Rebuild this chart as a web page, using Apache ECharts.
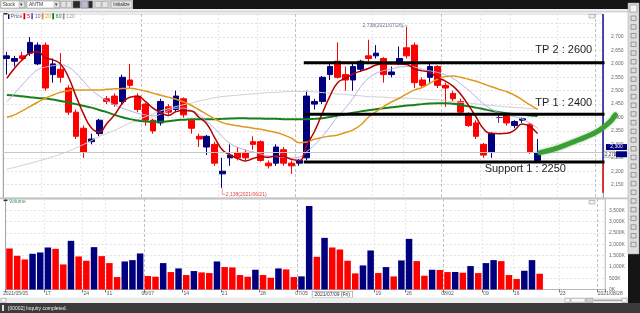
<!DOCTYPE html>
<html>
<head>
<meta charset="utf-8">
<title>ANTM</title>
<script src="https://cdn.jsdelivr.net/npm/echarts@6.0.0/dist/echarts.min.js"></script>
<style>
html,body{margin:0;padding:0;background:#ffffff;overflow:hidden;}
#chart{width:640px;height:313px;}
</style>
</head>
<body>
<div id="chart"></div>
<script>
// ---------------- DATA ----------------
const dates = [
'2021/05/05','2021/05/06','2021/05/07','2021/05/10','2021/05/11','2021/05/17','2021/05/18','2021/05/19','2021/05/20','2021/05/21',
'2021/05/24','2021/05/25','2021/05/27','2021/05/31','2021/06/01','2021/06/02','2021/06/03','2021/06/04','2021/06/07','2021/06/08',
'2021/06/09','2021/06/10','2021/06/11','2021/06/14','2021/06/15','2021/06/16','2021/06/17','2021/06/18','2021/06/21','2021/06/22',
'2021/06/23','2021/06/24','2021/06/25','2021/06/28','2021/06/29','2021/06/30','2021/07/01','2021/07/02','2021/07/05','2021/07/06',
'2021/07/07','2021/07/08','2021/07/09','2021/07/12','2021/07/13','2021/07/14','2021/07/15','2021/07/16','2021/07/19','2021/07/21',
'2021/07/22','2021/07/23','2021/07/26','2021/07/27','2021/07/28','2021/07/29','2021/07/30','2021/08/02','2021/08/03','2021/08/04',
'2021/08/05','2021/08/06','2021/08/09','2021/08/10','2021/08/12','2021/08/13','2021/08/16','2021/08/18','2021/08/19','2021/08/20',
'2021/08/21','2021/08/22','2021/08/23','2021/08/24','2021/08/25','2021/08/26','2021/08/27','2021/08/28'
];
const tickLabels = {0:'2021/05/05',5:'17',10:'24',13:'31',18:'06/07',23:'14',28:'21',33:'28',38:'07/05',
  42:'2021/07/09 (Fri)',48:'19',52:'26',57:'08/02',62:'09',66:'16',72:'23',77:'2021/08/28'};
const monthTickIdx = [18,38,57,77];
const crossIdx = 42;

const opens  = [2620,2610,2630,2640,2600,2670,2560,2580,2510,2420,2360,2310,2340,2470,2480,2460,2540,2480,2450,2390,
                2380,2440,2430,2470,2390,2330,2290,2300,2190,2250,2270,2270,2310,2310,2230,2230,2280,2230,2230,2250,
                2450,2460,2560,2610,2560,2540,2580,2630,2630,2620,2560,2600,2660,2670,2540,2550,2590,2520,2490,2460,
                2410,2380,2300,2270,2400,2410,2370,2390,2375,2240];
const closes = [2630,2620,2620,2680,2670,2510,2600,2550,2420,2330,2270,2320,2390,2460,2450,2550,2520,2430,2390,2350,
                2460,2420,2480,2410,2360,2320,2330,2230,2200,2260,2250,2250,2300,2240,2220,2290,2230,2220,2240,2480,
                2460,2550,2590,2550,2540,2590,2610,2620,2640,2560,2570,2620,2630,2530,2520,2590,2520,2510,2470,2420,
                2370,2330,2260,2340,2400,2380,2385,2395,2270,2270];
const lows   = [2560,2590,2615,2630,2595,2500,2530,2530,2410,2320,2250,2300,2330,2450,2440,2450,2510,2420,2370,2340,
                2370,2410,2420,2400,2340,2290,2260,2220,2138,2220,2240,2240,2280,2235,2210,2220,2220,2190,2220,2240,
                2430,2450,2540,2545,2500,2500,2570,2610,2620,2530,2550,2595,2620,2510,2510,2530,2510,2440,2460,2410,
                2365,2320,2250,2250,2380,2370,2360,2380,2265,2240];
const highs  = [2645,2630,2645,2700,2680,2680,2620,2640,2520,2430,2370,2340,2395,2480,2490,2560,2600,2490,2455,2395,
                2470,2450,2500,2475,2395,2340,2335,2310,2250,2300,2290,2280,2330,2315,2240,2300,2290,2240,2245,2500,
                2470,2555,2600,2680,2590,2600,2615,2690,2670,2625,2590,2665,2738,2680,2550,2600,2595,2530,2500,2470,
                2420,2390,2305,2345,2420,2415,2390,2400,2380,2320];
const volumes = [1813,1490,1329,1578,1637,1857,1798,1108,2151,1461,1270,1872,1475,1167,550,1240,1299,1593,595,565,
                 1167,771,932,639,815,756,727,1240,991,976,639,565,873,639,521,932,888,550,580,3692,
                 1446,2283,1857,1769,1270,712,1064,1725,727,991,580,1285,2239,1255,609,873,865,771,775,741,
                 1035,727,1167,1299,1255,639,462,829,1299,697];
const ma5   = [2546,2584,2615,2640,2645,2623,2615,2599,2551,2479,2412,2361,2346,2378,2410,2451,2476,2479,2460,2435,
               2418,2408,2422,2426,2424,2400,2376,2326,2280,2261,2248,2238,2247,2254,2252,2257,2255,2244,2240,2298,
               2349,2415,2480,2530,2546,2563,2573,2583,2596,2600,2600,2600,2598,2581,2574,2568,2549,2536,2517,2487,
               2446,2402,2357,2341,2340,2341,2353,2376,2366,2340];
const ma10  = [2459,2490,2522,2553,2578,2588,2593,2596,2588,2565,2534,2503,2481,2463,2447,2435,2425,2416,2410,2406,
               2413,2426,2435,2435,2426,2410,2385,2360,2329,2304,2289,2279,2272,2264,2257,2254,2252,2249,2252,2273,
               2298,2329,2366,2403,2435,2472,2515,2546,2565,2575,2581,2588,2590,2588,2580,2574,2568,2559,2546,2525,
               2503,2476,2451,2431,2418,2410,2403,2394,2379,2360];
const ma20  = [2401,2410,2425,2441,2457,2472,2484,2494,2500,2503,2503,2503,2503,2505,2507,2508,2509,2505,2499,2491,
               2483,2476,2468,2458,2445,2428,2412,2395,2381,2374,2369,2365,2360,2356,2350,2344,2335,2323,2306,2309,
               2319,2326,2331,2335,2344,2354,2372,2401,2422,2441,2458,2472,2488,2503,2512,2528,2543,2553,2555,2550,
               2543,2535,2525,2515,2505,2496,2483,2466,2447,2431];
const ma60  = [2484,2482,2479,2476,2473,2471,2467,2462,2456,2450,2443,2437,2428,2420,2410,2401,2394,2389,2385,2384,
               2384,2386,2390,2392,2394,2394,2394,2394,2395,2396,2397,2397,2396,2396,2395,2395,2394,2394,2394,2394,
               2395,2397,2402,2407,2412,2418,2423,2427,2431,2435,2438,2441,2445,2447,2450,2452,2453,2453,2451,2447,
               2442,2437,2431,2425,2420,2416,2413,2411,2408,2406];
const ma120 = [2207,2214,2222,2229,2237,2245,2254,2264,2274,2287,2300,2314,2329,2341,2352,2366,2379,2391,2403,2413,
               2425,2433,2441,2448,2454,2462,2468,2474,2478,2481,2483,2486,2488,2491,2493,2494,2496,2497,2497,2497,
               2496,2493,2491,2488,2486,2483,2481,2478,2477,2476,2474,2473,2472,2471,2469,2468,2466,2463,2459,2457,
               2454,2451,2447,2445,2442,2440,2437,2436,2433,2432];
const priceTicks  = [2150,2200,2250,2300,2350,2400,2450,2500,2550,2600,2650,2700];
const volumeTicks = [0,500,1000,1500,2000,2500,3000,3500];
const levelTexts  = ['TP 2 : 2600','TP 1 : 2400','Support 1 : 2250'];
const levelValues = [2604,2412,2234];
const levelFromIdx = 38.6;
const projectionIdx    = [69.3,71.1,73.2,75.4,77.1,78.45,79.1];
const projectionPrices = [2269,2282,2304,2329,2354,2385,2410];
const highMark = {idx:52, value:2738, text:'2,738(2021/07/26)'};
const lowMark  = {idx:28, value:2138, text:'2,138(2021/06/21)'};
const rangeSplit = 2236, rangeLow = 2120;
const sideBoxes = [{value:2290, text:'2,300'}, {value:2263, text:'2,270'}];

// ---------------- STYLE ----------------
const BLUE = '#00007f', RED = '#ff0000';
const FONT = 'Liberation Sans';
const N = dates.length;
const minorTickIdx = Object.keys(tickLabels).map(Number);

const chart = echarts.init(document.getElementById('chart'), null, {renderer:'canvas'});

function catAxis(grid, opts) {
  return Object.assign({
    type:'category', gridIndex:grid, data:dates, boundaryGap:true,
    axisLine:{show:false}, axisTick:{show:false}, axisLabel:{show:false},
    splitLine:{show:false}
  }, opts);
}

const option = {
  animation:false,
  backgroundColor:'#ffffff',
  grid:[
    {left:3, right:37, top:14, height:184, show:true, borderColor:'#d4d4d4', borderWidth:1},
    {left:3, right:35, top:199, height:90.5, show:true, borderColor:'#d4d4d4', borderWidth:1}
  ],
  xAxis:[
    catAxis(0, {splitLine:{show:true, interval:(i)=>minorTickIdx.includes(i) && !monthTickIdx.includes(i) && i!==crossIdx,
                           lineStyle:{color:'#e6e6e6', type:[2,2], width:1}}}),
    catAxis(1, {
      position:'bottom',
      axisLine:{show:true, lineStyle:{color:'#b8b8b8'}},
      axisTick:{show:true, interval:(i)=>minorTickIdx.includes(i) && i!==crossIdx, length:3, lineStyle:{color:'#777'}},
      axisLabel:{show:true, interval:0, fontSize:5, fontFamily:FONT, color:'#555', margin:2, align:'center',
        formatter:(v,i)=>{
          const t = tickLabels[i];
          if (!t) return '';
          if (i===0) return '{first|'+t+'}';
          if (i===N-1) return '{last|'+t+'}';
          if (i===crossIdx) return '{cross|'+t+'}';
          return t;
        },
        rich:{
          first:{padding:[0,0,0,12], fontSize:5, fontFamily:FONT, color:'#555'},
          last:{padding:[0,0,0,18], fontSize:5, fontFamily:FONT, color:'#555'},
          cross:{backgroundColor:'#ffffff', borderColor:'#8a8a8a', borderWidth:0.6, padding:[1,2,0,2], fontSize:5, fontFamily:FONT, color:'#333'}
        }
      },
      splitLine:{show:true, interval:(i)=>minorTickIdx.includes(i) && !monthTickIdx.includes(i) && i!==crossIdx,
                 lineStyle:{color:'#e6e6e6', type:[2,2], width:1}}
    }),
    catAxis(0, {splitLine:{show:true, interval:(i)=>monthTickIdx.includes(i), lineStyle:{color:'#c2c2c2', type:[3,2], width:1}}}),
    catAxis(1, {splitLine:{show:true, interval:(i)=>monthTickIdx.includes(i), lineStyle:{color:'#c2c2c2', type:[3,2], width:1}}}),
    catAxis(0, {splitLine:{show:true, interval:(i)=>i===crossIdx, lineStyle:{color:'#a6a6a6', type:'solid', width:1}}}),
    catAxis(1, {splitLine:{show:true, interval:(i)=>i===crossIdx, lineStyle:{color:'#a6a6a6', type:'solid', width:1}}}),
    {type:'value', gridIndex:0, min:-0.5, max:N-0.5, show:false}
  ],
  yAxis:[
    {type:'value', gridIndex:0, position:'right', min:2100, max:2786, interval:50, scale:true,
     axisLine:{show:false}, axisTick:{show:false},
     axisLabel:{fontSize:5, fontFamily:FONT, color:'#666', margin:8, showMaxLabel:true,
       formatter:(v)=>priceTicks.includes(v) ? v.toLocaleString('en-US') : ''},
     splitLine:{show:true, lineStyle:{color:'#e2e2e2', type:[2,2], width:1}}},
    {type:'value', gridIndex:1, position:'right', min:0, max:4000, interval:500,
     axisLine:{show:true, lineStyle:{color:'#c8c8c8'}}, axisTick:{show:false},
     axisLabel:{fontSize:5, fontFamily:FONT, color:'#666', margin:4,
       formatter:(v)=>volumeTicks.includes(v) ? v.toLocaleString('en-US')+'K' : ''},
     splitLine:{show:true, lineStyle:{color:'#e2e2e2', type:[2,2], width:1}}}
  ],
  series:[
    {type:'candlestick', name:'Price', xAxisIndex:0, yAxisIndex:0, barWidth:6.3,
     data: opens.map((o,i)=>[o, closes[i], lows[i], highs[i]]),
     itemStyle:{color:BLUE, color0:RED, borderColor:BLUE, borderColor0:RED, borderColorDoji:'#3a3a9a', borderWidth:1},
     markLine:{silent:true, symbol:'none', label:{show:false},
       lineStyle:{color:'#c6c6c6', type:'solid', width:1},
       data:[{yAxis: closes[closes.length-1]}]}
    },
    {type:'line', name:'120', xAxisIndex:0, yAxisIndex:0, data:ma120, showSymbol:false, smooth:true,
     lineStyle:{color:'#cfcfcf', width:1}},
    {type:'line', name:'60', xAxisIndex:0, yAxisIndex:0, data:ma60, showSymbol:false, smooth:true,
     lineStyle:{color:'#17801a', width:2}},
    {type:'line', name:'20', xAxisIndex:0, yAxisIndex:0, data:ma20, showSymbol:false, smooth:true,
     lineStyle:{color:'#e0981c', width:1.5}},
    {type:'line', name:'10', xAxisIndex:0, yAxisIndex:0, data:ma10, showSymbol:false, smooth:true,
     lineStyle:{color:'#b2b2e6', width:1}},
    {type:'line', name:'5', xAxisIndex:0, yAxisIndex:0, data:ma5, showSymbol:false, smooth:true,
     lineStyle:{color:'#b30000', width:1.5}},
    {type:'bar', name:'Volume', xAxisIndex:1, yAxisIndex:1, barWidth:6.5,
     data: volumes.map((v,i)=>({value:v, itemStyle:{color: (i>0 && v>volumes[i-1]) ? BLUE : RED}}))},
    // price-range line on the right edge
    {type:'line', xAxisIndex:6, yAxisIndex:0, clip:false, showSymbol:false, silent:true,
     data:[[N-0.5, 2786],[N-0.5, rangeSplit]], lineStyle:{color:'#1a1aa0', width:1.5}, z:5},
    {type:'line', xAxisIndex:6, yAxisIndex:0, clip:false, showSymbol:false, silent:true,
     data:[[N-0.5, rangeSplit],[N-0.5, rangeLow]], lineStyle:{color:'#e00000', width:1.5}, z:5},
    // hand-drawn levels
    ...levelValues.map(v=>({type:'line', xAxisIndex:6, yAxisIndex:0, clip:false, showSymbol:false, silent:true,
      data:[[levelFromIdx, v],[N-0.3, v]], lineStyle:{color:'#000000', width:3}, z:10}))
  ]
};
chart.setOption(option);

// ---------------- OVERLAYS (placed through the chart's own scales) ----------------
const P = (x, v) => chart.convertToPixel({xAxisIndex:6, yAxisIndex:0}, [x, v]);
const g = [];
function rect(x,y,w,h,fill,stroke,lw,z){ g.push({type:'rect', z:z||50, silent:true, shape:{x,y,width:w,height:h},
  style:{fill:fill||'none', stroke:stroke||null, lineWidth:lw||0}}); }
function txt(x,y,t,size,fill,align,valign,font,z,weight){ g.push({type:'text', z:z||60, silent:true,
  style:{x,y,text:t,fontSize:size,fill,align:align||'left',verticalAlign:valign||'middle',fontFamily:font||FONT,fontWeight:weight||'normal'}}); }
function line(x1,y1,x2,y2,stroke,lw,z){ g.push({type:'line', z:z||55, silent:true, shape:{x1,y1,x2,y2}, style:{stroke, lineWidth:lw||1}}); }

// top toolbar
rect(0,0,640,9,'#151515');
rect(0,0,133,9,'#cfcfcf');
rect(1,1,24,7,'#ffffff','#8a8a8a',0.5);  txt(2.5,4.6,'Stock',5,'#333');
rect(19,1.5,5.5,6,'#e4e4e4','#9a9a9a',0.5); txt(21.7,4.6,'▾',5,'#333','center');
rect(27,1,33,7,'#ffffff','#8a8a8a',0.5); txt(29,4.6,'ANTM',5,'#333');
rect(54,1.5,5.5,6,'#e4e4e4','#9a9a9a',0.5); txt(56.7,4.6,'▾',5,'#333','center');
rect(61,1.5,5,6,'#e4e4e4','#9a9a9a',0.5); rect(66.5,1.5,5,6,'#e4e4e4','#9a9a9a',0.5);
rect(73,1,7,7,'#2b2b2b','#777',0.5); rect(81,1,7,7,'#b9b9d9','#777',0.5); rect(88.5,1,4,7,'#2b2b2b','#777',0.5);
rect(95,1.5,6,6,'#e4e4e4','#9a9a9a',0.5); rect(102,1.5,6,6,'#e4e4e4','#9a9a9a',0.5);
rect(111,1,21,7,'#e6e6e6','#8a8a8a',0.5); txt(121.5,4.6,'Initialize',4.5,'#222','center');
rect(0,9,628,3,'#ededed');
rect(0,11.5,628,0.8,'#b5b5b5');
// right toolbar
rect(628,0,12,313,'#151515');
rect(628,3,11,251,'#dedede','#a0a0a0',0.5);
rect(630,5,7,7,'#f4f4f4','#777',0.5);
for (let k=0;k<27;k++){ const yy=16+k*8.7; rect(631,yy,5,4.5,'none','#6a6a6a',0.6); }
// panel separator
rect(0,197.6,628,1.6,'#c4c4c4');
// legends
g.push({type:'text', z:60, silent:true, style:{x:8, y:16.5, verticalAlign:'middle', fontFamily:FONT, fontSize:5,
  text:'{a|▌}{p|Price} {r|▌}{r|5} {b|▌}{b|10} {o|▌}{o|20} {gr|▌}{gr|60} {gy|▌}{gy|120}',
  rich:{a:{fill:'#000080',fontSize:4}, p:{fill:'#556',fontSize:5,fontFamily:FONT}, r:{fill:'#e00000',fontSize:5,fontFamily:FONT},
        b:{fill:'#6060c8',fontSize:5,fontFamily:FONT}, o:{fill:'#e0981c',fontSize:5,fontFamily:FONT},
        gr:{fill:'#17801a',fontSize:5,fontFamily:FONT}, gy:{fill:'#9a9a9a',fontSize:5,fontFamily:FONT}}}});
rect(3.5,13,4,1.5,'#333');
rect(3.5,199.6,4,1.5,'#333');
txt(9,202,'Volume',5,'#3a9a55');
rect(589,14.5,6,3.5,'#f2f2f2','#888',0.5);
rect(589,200.5,6,3.5,'#f2f2f2','#888',0.5);
// bottom scroll row and status bar
rect(0,297.5,628,5.5,'#ececec');
rect(1,298.3,5,4,'#f8f8f8','#888',0.5);
rect(565,298.3,5,4,'#f8f8f8','#888',0.5);
rect(571,298.3,14,4,'#f8f8f8','#888',0.5);
rect(586,298.3,7,4,'#cfcfcf','#888',0.5);
rect(594,299.6,28,1.5,'#a8a8a8');
rect(622,298.3,5,4,'#f8f8f8','#888',0.5);
rect(0,303,640,10,'#3b3b3b');
rect(2,305,2,6,'#dcdcdc');
txt(8,308.3,'[00002] Inquiry completed.',5,'#f0f0f0');

// projection arrow (hand-drawn green curve), through the price scale
g.push({type:'polyline', z:80, silent:true,
  shape:{points: projectionIdx.map((x,i)=>P(x, projectionPrices[i])), smooth:0.35},
  style:{stroke:'#3c9f35', lineWidth:5, lineCap:'round', lineJoin:'round', fill:null,
         shadowColor:'rgba(60,160,50,0.55)', shadowBlur:3}});

// level labels
const levelLabelLayout = [{idx:76.1, dy:-12.5, align:'right'},{idx:76.1, dy:-11, align:'right'},{idx:67.4, dy:7, align:'center'}];
levelValues.forEach((v,i)=>{
  const L = levelLabelLayout[i];
  const p = P(L.idx, v);
  txt(p[0], p[1]+L.dy, levelTexts[i], 11, '#1e1e1e', L.align, 'middle', FONT, 70);
});
// high / low annotations
{
  const h = P(highMark.idx, highMark.value);
  line(h[0]-3, h[1]-1, h[0], h[1]-1, '#8a8aa8', 0.6); line(h[0], h[1]-1, h[0], h[1]+1.5, '#8a8aa8', 0.6);
  txt(h[0]-3.5, h[1]-1, highMark.text, 5, '#6c6c90', 'right');
  const l = P(lowMark.idx, lowMark.value);
  line(l[0], l[1], l[0], l[1]+6.5, '#e05050', 0.6); line(l[0], l[1]+6.5, l[0]+3, l[1]+6.5, '#e05050', 0.6);
  txt(l[0]+3.5, l[1]+6.8, lowMark.text, 5, '#e04848', 'left');
}
// side boxes on the price scale
{
  const b1 = P(N-0.5, sideBoxes[0].value);
  rect(b1[0]+3, b1[1]-3, 21, 6, '#00007f', null, 0, 65);
  txt(b1[0]+13.5, b1[1], sideBoxes[0].text, 5, '#ffffff', 'center', 'middle', FONT, 66);
  const b2 = P(N-0.5, sideBoxes[1].value);
  rect(b2[0]+1, b2[1]-3, 11, 6, '#ffffff', '#777', 0.5, 65);
  txt(b2[0]+2, b2[1], sideBoxes[1].text, 4.5, '#333', 'left', 'middle', FONT, 66);
  rect(b2[0]+13, b2[1]-3, 11, 6, '#00007f', null, 0, 65);
}
chart.setOption({graphic:{elements:g}});
</script>
</body>
</html>
